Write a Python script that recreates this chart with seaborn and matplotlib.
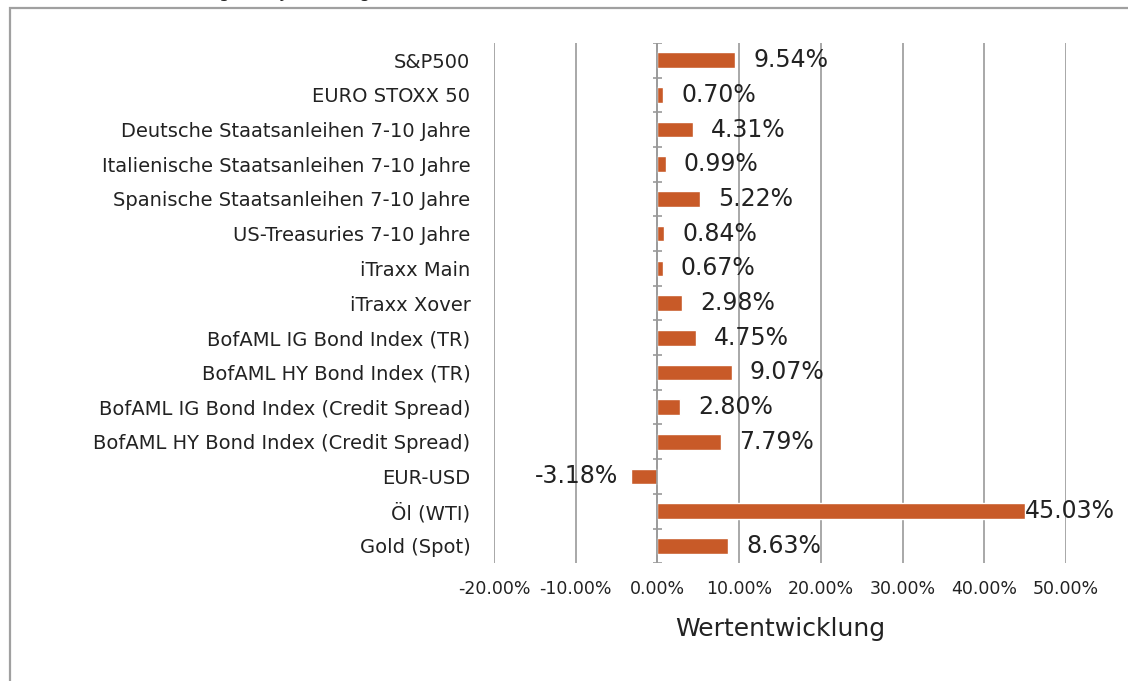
import pandas as pd
import matplotlib.pyplot as plt
import seaborn as sns
from matplotlib.patches import Rectangle

# Daten
kategorien = [
    "S&P500",
    "EURO STOXX 50",
    "Deutsche Staatsanleihen 7-10 Jahre",
    "Italienische Staatsanleihen 7-10 Jahre",
    "Spanische Staatsanleihen 7-10 Jahre",
    "US-Treasuries 7-10 Jahre",
    "iTraxx Main",
    "iTraxx Xover",
    "BofAML IG Bond Index (TR)",
    "BofAML HY Bond Index (TR)",
    "BofAML IG Bond Index (Credit Spread)",
    "BofAML HY Bond Index (Credit Spread)",
    "EUR-USD",
    "Öl (WTI)",
    "Gold (Spot)",
]
werte = [9.54, 0.70, 4.31, 0.99, 5.22, 0.84, 0.67, 2.98, 4.75, 9.07, 2.80, 7.79, -3.18, 45.03, 8.63]
x_ticks = [-20, -10, 0, 10, 20, 30, 40, 50]

df = pd.DataFrame({"kategorie": kategorien, "wert": werte})

sns.set_style("white")
plt.rcParams["font.family"] = ["DejaVu Sans"]

textfarbe = "#222222"
gitterfarbe = "#9a9a9a"

fig = plt.figure(figsize=(11.28, 6.81), dpi=100)
ax = fig.add_axes([0.438, 0.173, 0.507, 0.764])

sns.barplot(data=df, x="wert", y="kategorie", orient="h", color="#C85A28",
            width=0.45, ax=ax, saturation=1)

ax.set_xlim(-20, 50)
ax.set_ylim(len(kategorien) - 0.5, -0.5)
ax.set_xticks(x_ticks)
ax.set_xticklabels([f"{t:.2f}%" for t in x_ticks], fontsize=12.5)
ax.tick_params(axis="x", length=0, pad=12, colors=textfarbe)
ax.tick_params(axis="y", length=0, pad=17, labelsize=14, colors=textfarbe)
ax.xaxis.grid(True, color=gitterfarbe, lw=1.2)
ax.set_axisbelow(True)
for s in ax.spines.values():
    s.set_visible(False)

# Kategorienachse bei 0 mit Teilstrichen
ax.axvline(0, color=gitterfarbe, lw=1.2, zorder=1)
ax.hlines([i - 0.5 for i in range(len(kategorien) + 1)], -0.6, 0.6,
          color=gitterfarbe, lw=1.2, zorder=1)

# Datenbeschriftungen
for i, w in enumerate(werte):
    if w < 0:
        ax.text(w - 1.6, i, f"{w:.2f}%", ha="right", va="center", fontsize=17,
                color=textfarbe)
    elif w > 40:
        ax.text(w, i, f"{w:.2f}%", ha="left", va="center", fontsize=17,
                color=textfarbe, clip_on=False)
    else:
        ax.text(w + 2.2, i, f"{w:.2f}%", ha="left", va="center", fontsize=17,
                color=textfarbe)

ax.set_xlabel("Wertentwicklung", fontsize=18, labelpad=14, color=textfarbe)
ax.set_ylabel("")

# Rahmen und abgeschnittener Titel
fig.add_artist(Rectangle((10 / 1128, -0.05), 1.2, 1 - 8 / 681 + 0.05,
                         transform=fig.transFigure, fill=False,
                         edgecolor="#a0a0a0", lw=1.6))
fig.text(0.07, 1.004, "Wertentwicklung (seit Jahresbeginn)", fontsize=13,
         va="baseline", color=textfarbe)

plt.savefig("out.png", dpi=100)
plt.close()
